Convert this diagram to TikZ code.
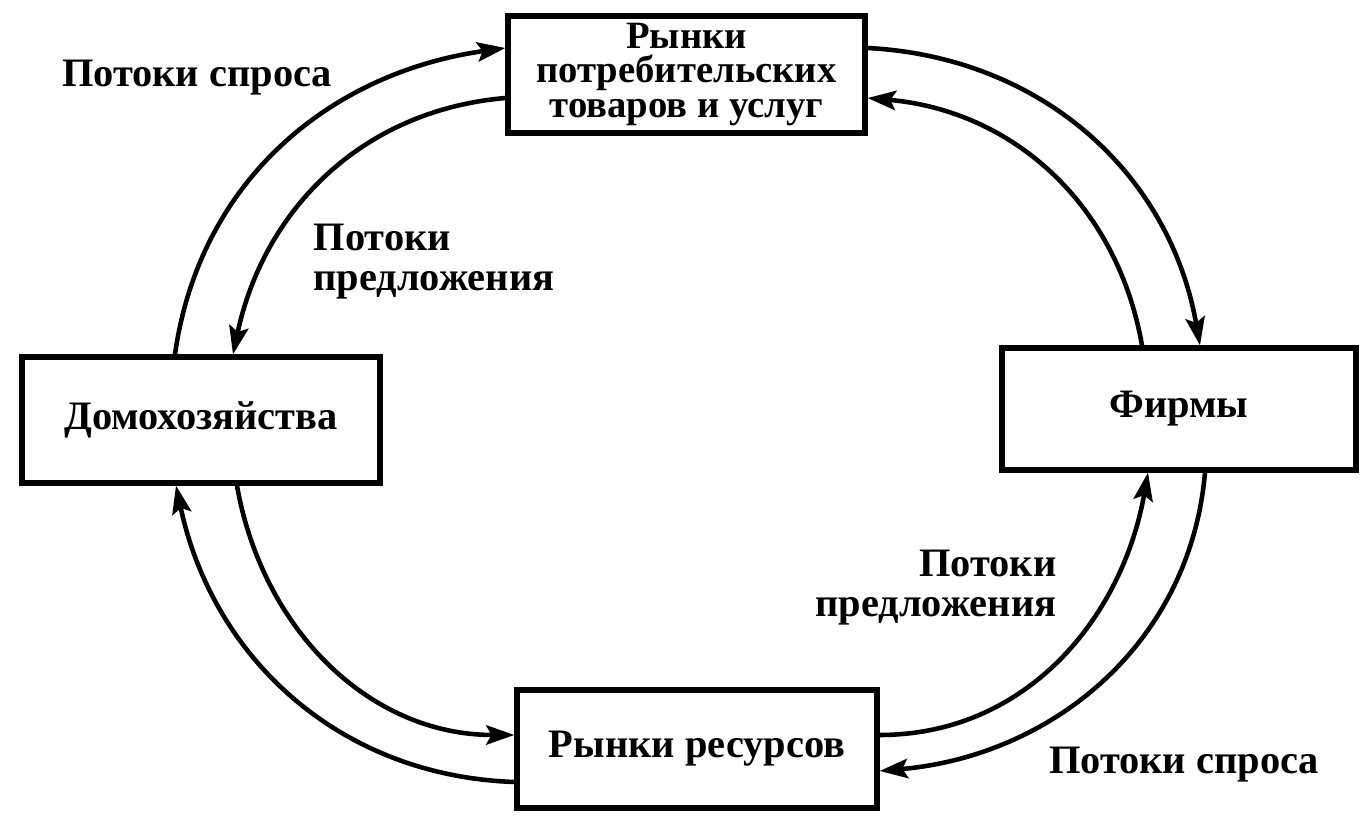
\documentclass[tikz,border=0pt]{standalone}
\usepackage{fontspec}
\setmainfont{Liberation Serif}
\usetikzlibrary{arrows.meta,positioning}

\begin{document}
\begin{tikzpicture}[
  market/.style={draw, line width=1.5pt, inner sep=0.5pt, align=center, font=\bfseries\fontsize{11.5}{10.4}\selectfont},
  flow/.style={line width=1.3pt, -{Stealth[length=8pt,width=5.5pt,inset=1.5pt]}},
  flowlabel/.style={font=\bfseries\fontsize{11.5}{11.4}\selectfont}
]
\useasboundingbox (0,0) rectangle (13.7,8.17);
\node[market, minimum width=3.57cm, minimum height=1.17cm, font=\bfseries\fontsize{11}{9.7}\selectfont] (cons) at (6.865,7.425) {Рынки\\потребительских\\товаров и услуг};
\node[market, minimum width=3.58cm, minimum height=1.26cm] (house) at (2.01,3.97) {Домохозяйства};
\node[market, minimum width=3.54cm, minimum height=1.22cm] (firms) at (11.79,4.08) {Фирмы};
\node[market, minimum width=3.6cm, minimum height=1.18cm] (res) at (6.97,0.68) {Рынки ресурсов};

\node[flowlabel] (demtop) at (1.97,7.39) {Потоки спроса};
\node[flowlabel, align=left] (suptop) at (4.34,5.55) {Потоки\\предложения};
\node[flowlabel, align=right] (supbot) at (9.36,2.29) {Потоки\\предложения};
\node[flowlabel] (dembot) at (11.84,0.52) {Потоки спроса};

\draw[flow] ([xshift=-0.26cm]house.north) to[out=82,in=188] ([yshift=0.265cm]cons.west);
\draw[flow] ([yshift=-0.235cm]cons.west) to[out=185,in=78] ([xshift=0.32cm]house.north);
\draw[flow] ([yshift=0.265cm]cons.east) to[out=-3,in=100] ([xshift=0.21cm]firms.north);
\draw[flow] ([xshift=-0.37cm]firms.north) to[out=100,in=-5] ([yshift=-0.235cm]cons.east);
\draw[flow] ([xshift=0.36cm]house.south) to[out=-80,in=180] ([yshift=0.14cm]res.west);
\draw[flow] ([yshift=-0.33cm]res.west) to[out=178,in=-78] ([xshift=-0.25cm]house.south);
\draw[flow] ([yshift=0.14cm]res.east) to[out=0,in=-100] ([xshift=-0.31cm]firms.south);
\draw[flow] ([xshift=0.26cm]firms.south) to[out=-95,in=5] ([yshift=-0.22cm]res.east);
\end{tikzpicture}
\end{document}
